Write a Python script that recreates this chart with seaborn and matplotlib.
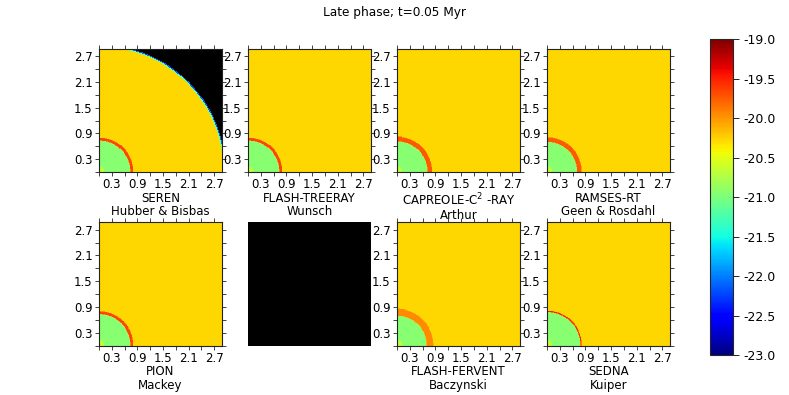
import numpy as np
import matplotlib
matplotlib.use("Agg")
import matplotlib.pyplot as plt
import seaborn as sns

# panel layout: 2 rows x 4 columns, one slot left empty (None)
codes = ["SEREN", "FLASH-TREERAY", "CAPREOLE-C$^2$ -RAY", "RAMSES-RT",
         "PION", None, "FLASH-FERVENT", "SEDNA"]
authors = ["Hubber & Bisbas", "Wunsch", "Arthur", "Geen & Rosdahl",
           "Mackey", None, "Baczynski", "Kuiper"]

# log density levels (jet, -23 .. -19)
ambient = [-20.27, -20.27, -20.27, -20.27, -20.27, None, -20.27, -20.27]
inner = [-20.95, -20.95, -20.95, -20.95, -20.95, None, -20.95, -20.95]
shell = [-19.65, -19.65, -19.75, -19.75, -19.65, None, -19.95, -19.5]
# radii of the ionised region and its shell (pc)
r_in = [0.73, 0.73, 0.71, 0.70, 0.73, None, 0.69, 0.78]
r_out = [0.81, 0.81, 0.83, 0.82, 0.81, None, 0.86, 0.82]
# outer edge of the simulated cloud (only SEREN has one inside the box)
r_edge = [2.97, None, None, None, None, None, None, None]

box = 2.88
npix = 240
tick_vals = [0.3, 0.9, 1.5, 2.1, 2.7]
minor_vals = [0.0, 0.6, 1.2, 1.8, 2.4]
cbar_ticks = [-23.0, -22.5, -22.0, -21.5, -21.0, -20.5, -20.0, -19.5, -19.0]

sns.set_style("ticks")
plt.rcParams['font.family'] = ['DejaVu Sans']
plt.rcParams['text.color'] = 'black'
plt.rcParams['axes.labelcolor'] = 'black'
plt.rcParams['xtick.color'] = 'black'
plt.rcParams['ytick.color'] = 'black'

fig = plt.figure(figsize=(7.89, 3.95), dpi=100)
fig.suptitle("Late phase; t=0.05 Myr", fontsize=8.7, y=0.985)

lefts = [99, 248, 397, 547]
bottoms = [1 - 172 / 395, 1 - 345.5 / 395]
w = 123 / 789
h = 123.5 / 395

c = (np.arange(npix) + 0.5) * box / npix
xx, yy = np.meshgrid(c, c)
rr = np.hypot(xx, yy)

for k in range(8):
    row, col = divmod(k, 4)
    ax = fig.add_axes([lefts[col] / 789, bottoms[row], w, h])
    if codes[k] is None:
        ax.set_facecolor("black")
        ax.set_xticks([])
        ax.set_yticks([])
        for s in ax.spines.values():
            s.set_visible(False)
        continue

    field = np.full((npix, npix), ambient[k])
    field[rr < r_out[k]] = shell[k]
    # softer (orange) edges of the shell
    dr = 0.012
    field[(rr < r_out[k]) & (rr > r_out[k] - dr)] = (shell[k] + ambient[k]) / 2
    field[(rr < r_in[k] + dr) & (rr >= r_in[k])] = (shell[k] + ambient[k]) / 2
    field[rr < r_in[k]] = inner[k]
    # slight brightening toward the source
    field[rr < 0.12] = inner[k] + 0.3
    if r_edge[k] is not None:
        edge = r_edge[k]
        field[(rr > edge - 0.05) & (rr <= edge - 0.025)] = -21.0
        field[(rr > edge - 0.025) & (rr <= edge)] = -22.1
        field[rr > edge] = np.nan

    ax.set_facecolor("black")
    sns.heatmap(field, ax=ax, cmap="jet", vmin=-23, vmax=-19, cbar=False,
                xticklabels=False, yticklabels=False, linewidths=0,
                rasterized=True)
    ax.invert_yaxis()
    ax.set_xlim(0, npix)
    ax.set_ylim(0, npix)
    for s in ax.spines.values():
        s.set_visible(True)
        s.set_color("#222222")
        s.set_linewidth(0.8)

    pos = [v / box * npix for v in tick_vals]
    mpos = [v / box * npix for v in minor_vals]
    ax.set_xticks(pos)
    ax.set_yticks(pos)
    ax.set_xticks(mpos, minor=True)
    ax.set_yticks(mpos, minor=True)
    ax.set_xticklabels([f"{v:.1f}" for v in tick_vals], rotation=0)
    ax.set_yticklabels([f"{v:.1f}" for v in tick_vals], rotation=0)
    ax.tick_params(which="both", direction="out", length=3, width=0.6,
                   top=True, right=True, labelsize=8.5, pad=1.5,
                   color="#222222")
    ax.set_xlabel(codes[k] + "\n" + authors[k], fontsize=8.5, labelpad=0.5,
                  linespacing=1.05)

cax = fig.add_axes([710 / 789, 1 - 355 / 395, 23.3 / 789, 315.7 / 395])
sm = plt.cm.ScalarMappable(norm=plt.Normalize(-23, -19), cmap="jet")
cb = fig.colorbar(sm, cax=cax, ticks=cbar_ticks)
cb.ax.set_yticklabels([f"{v:.1f}" for v in cbar_ticks])
cb.ax.tick_params(labelsize=9, length=4, width=0.6, direction="out")
cb.outline.set_linewidth(0.8)

fig.savefig("out.png", dpi=100)
